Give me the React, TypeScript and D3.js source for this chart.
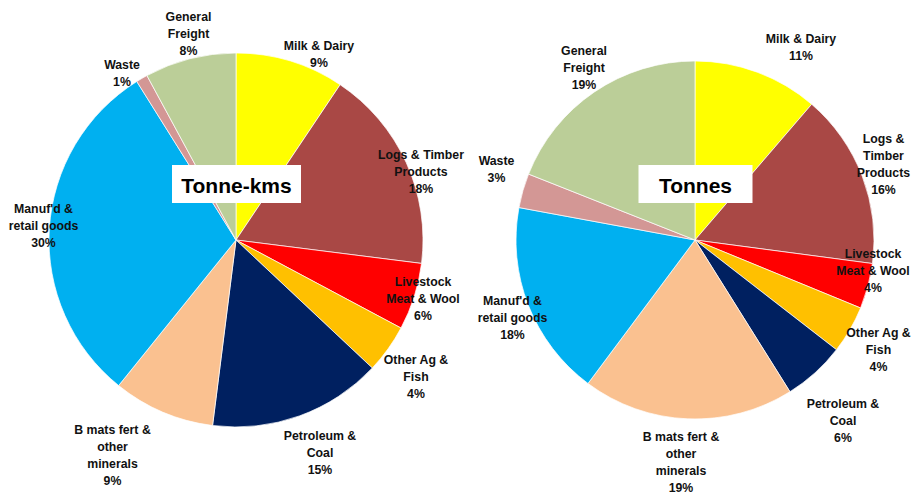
import React from "react";
import * as d3 from "d3";

const categories = [
  "Milk & Dairy",
  "Logs & Timber Products",
  "Livestock Meat & Wool",
  "Other Ag & Fish",
  "Petroleum & Coal",
  "B mats fert & other minerals",
  "Manuf'd & retail goods",
  "Waste",
  "General Freight",
];

const colors = ["#FFFF00", "#A94845", "#FF0000", "#FFC000", "#002060", "#FAC190", "#00B0F0", "#D39795", "#BBCE98"];

const tonneKmsValues = [9.4, 17.6, 5.8, 4.2, 15.0, 8.8, 30.3, 1.0, 7.9];
const tonnesValues = [11.3, 15.8, 4.1, 4.3, 5.6, 19.1, 17.7, 3.1, 19.0];

// label text lines (per chart, since wrapping differs)
const tonneKmsLabelLines = [
  ["Milk & Dairy"],
  ["Logs & Timber", "Products"],
  ["Livestock", "Meat & Wool"],
  ["Other Ag &", "Fish"],
  ["Petroleum &", "Coal"],
  ["B mats fert &", "other", "minerals"],
  ["Manuf'd &", "retail goods"],
  ["Waste"],
  ["General", "Freight"],
];
const tonnesLabelLines = [
  ["Milk & Dairy"],
  ["Logs &", "Timber", "Products"],
  ["Livestock", "Meat & Wool"],
  ["Other Ag &", "Fish"],
  ["Petroleum &", "Coal"],
  ["B mats fert &", "other", "minerals"],
  ["Manuf'd &", "retail goods"],
  ["Waste"],
  ["General", "Freight"],
];

// label block centre offsets from pie centre (layout)
const tonneKmsLabelOffsets: [number, number][] = [
  [83, -185.5], [185, -68], [187, 59], [180, 136.5], [84, 212.5],
  [-123.5, 215], [-192.5, -14.5], [-114, -166.5], [-47.5, -206.5],
];
const tonnesLabelOffsets: [number, number][] = [
  [106, -192.5], [188.5, -75.5], [178, 31], [183.5, 110], [148, 180.5],
  [-14, 222], [-182.5, 77.5], [-198.5, -70.5], [-111, -172],
];

const FONT = "'Liberation Sans', Arial, sans-serif";
const LINE_H = 17;

type PieProps = {
  cx: number;
  cy: number;
  r: number;
  values: number[];
  lines: string[][];
  offsets: [number, number][];
  title: string;
  titleBox: { w: number; h: number; dy: number };
};

function Pie({ cx, cy, r, values, lines, offsets, title, titleBox }: PieProps) {
  const total = d3.sum(values);
  const pie = d3.pie<number>().sort(null).value((d) => d);
  const arcs = pie(values);
  const arc = d3.arc<d3.PieArcDatum<number>>().innerRadius(0).outerRadius(r);
  const pct = (v: number) => `${Math.round((v / total) * 100)}%`;
  return (
    <g transform={`translate(${cx},${cy})`}>
      {arcs.map((a, i) => (
        <path key={i} d={arc(a) || ""} fill={colors[i]} stroke="#ffffff" strokeWidth={0.7} />
      ))}
      {arcs.map((a, i) => {
        const ls = [...lines[i], pct(values[i])];
        const [ox, oy] = offsets[i];
        const y0 = oy - ((ls.length - 1) * LINE_H) / 2;
        return (
          <text
            key={"l" + i}
            x={ox}
            y={y0}
            textAnchor="middle"
            dominantBaseline="central"
            fontFamily={FONT}
            fontWeight="bold"
            fontSize={12.3}
            fill="#111"
          >
            {ls.map((t, j) => (
              <tspan key={j} x={ox} y={y0 + j * LINE_H}>
                {t}
              </tspan>
            ))}
          </text>
        );
      })}
      <rect x={-titleBox.w / 2 + 0.5} y={titleBox.dy - titleBox.h / 2} width={titleBox.w} height={titleBox.h} fill="#ffffff" />
      <text
        x={0.5}
        y={titleBox.dy + 1}
        textAnchor="middle"
        dominantBaseline="central"
        fontFamily={FONT}
        fontWeight="bold"
        fontSize={21}
        fill="#000"
      >
        {title}
      </text>
    </g>
  );
}

export default function App() {
  return (
    <svg
      width={911}
      height={495}
      viewBox="0 0 911 495"
      style={{ position: "absolute", left: 0, top: 0, display: "block", background: "#fff" }}
    >
      <rect width={911} height={495} fill="#fff" />
      <Pie
        cx={236}
        cy={240}
        r={187}
        values={tonneKmsValues}
        lines={tonneKmsLabelLines}
        offsets={tonneKmsLabelOffsets}
        title="Tonne-kms"
        titleBox={{ w: 129, h: 38, dy: -56 }}
      />
      <Pie
        cx={695}
        cy={240}
        r={179}
        values={tonnesValues}
        lines={tonnesLabelLines}
        offsets={tonnesLabelOffsets}
        title="Tonnes"
        titleBox={{ w: 114, h: 38, dy: -56 }}
      />
    </svg>
  );
}
